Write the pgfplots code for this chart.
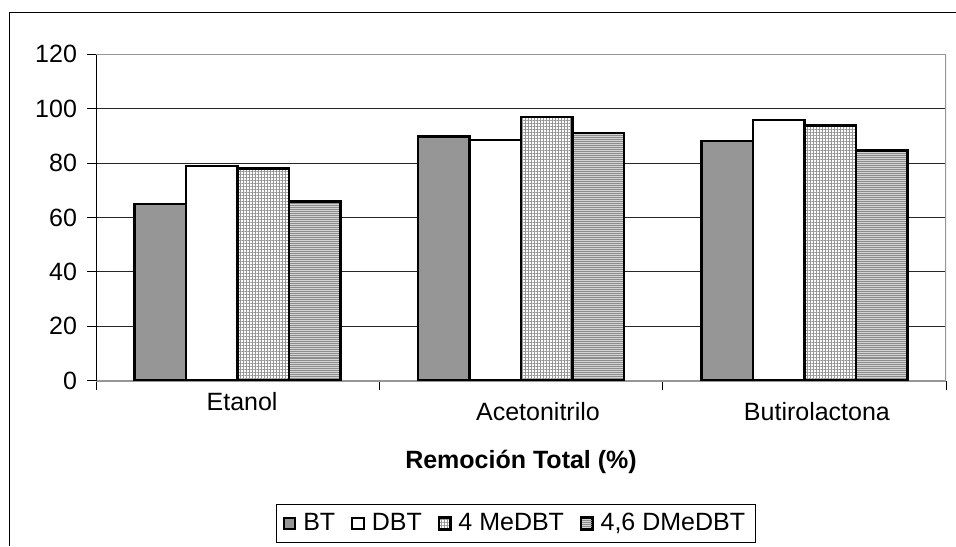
\documentclass[border=0pt]{standalone}
\usepackage{pgfplots}
\pgfplotsset{compat=1.18}
\usepackage{fontspec}
\setmainfont{Liberation Sans}
\usetikzlibrary{patterns.meta}

\definecolor{btgray}{RGB}{150,150,150}
\definecolor{gridpat}{RGB}{150,150,150}
\definecolor{stripebg}{RGB}{212,212,212}
\definecolor{stripefg}{RGB}{140,140,140}
\definecolor{framegray}{RGB}{150,150,150}

\newcommand{\chartfont}{\fontsize{12.5}{15}\selectfont}

\begin{document}
\begin{tikzpicture}[font=\chartfont]
\useasboundingbox (0,0) rectangle (478pt,273pt);
% outer chart frame
\draw[line width=0.6pt] (4.65pt,0) -- (4.65pt,266.65pt) -- (478pt,266.65pt);
\begin{axis}[
  at={(48pt,82.65pt)}, anchor=south west,
  scale only axis, width=425pt, height=163.2pt,
  xmin=-0.5, xmax=2.5, ymin=0, ymax=120,
  ytick={0,20,...,120},
  xtick={-0.5,0.5,1.5,2.5},
  xticklabels={},
  extra x ticks={0,1,2},
  extra x tick labels={{\raisebox{5pt}{\hspace*{4.4pt}Etanol}},{\hspace*{17pt}Acetonitrilo},{\hspace*{12.6pt}Butirolactona}},
  extra x tick style={major tick length=0pt, xticklabel style={anchor=base, yshift=-20pt}},
  axis lines=left,
  axis line style={-},
  x axis line style={framegray, line width=0.8pt},
  y axis line style={black, line width=0.5pt},
  tick align=outside,
  major tick length=4.5pt,
  tick style={black, line width=0.5pt},
  ymajorgrids,
  major grid style={black!85, line width=0.5pt},
  /pgf/number format/assume math mode=true,
  ticklabel style={font=\chartfont},
  yticklabel style={anchor=east, xshift=-1.5pt},
  xlabel={\textbf{Remoción Total (\%)}},
  xlabel style={at={(axis description cs:0.5,0)}, anchor=center, yshift=-40.6pt, font=\chartfont},
  ybar=0pt, bar width=25.75pt,
  every axis plot/.append style={draw=black, line width=1.3pt},
  legend columns=4,
  legend style={at={(0.494,-0.4375)}, anchor=center, draw=black, line width=0.5pt,
    inner xsep=3pt, inner ysep=2.5pt,
    /tikz/every even column/.append style={column sep=6pt},
    /tikz/every odd column/.append style={column sep=1.5pt},
    font=\chartfont},
  legend image code/.code={\draw[#1, line width=1pt] (0pt,-2.9pt) rectangle (5.8pt,2.9pt);},
]
\addplot[fill=btgray] coordinates {(0,65) (1,89.7) (2,88.1)};
\addplot[fill=white] coordinates {(0,78.9) (1,88.5) (2,95.8)};
\addplot[preaction={fill=white}, pattern={Hatch[angle=0, distance=1.5pt, line width=0.45pt]}, pattern color=gridpat]
  coordinates {(0,78.1) (1,97) (2,93.8)};
\addplot[preaction={fill=stripebg}, pattern={Lines[angle=0, distance=1pt, line width=0.5pt]}, pattern color=stripefg]
  coordinates {(0,65.8) (1,91) (2,84.6)};
\legend{BT,DBT,4 MeDBT,{4,6 DMeDBT}}
% plot-area border on the top and right
\draw[framegray, line width=0.8pt] (rel axis cs:0,1) -- (rel axis cs:1,1) -- (rel axis cs:1,0);
\end{axis}
\end{tikzpicture}
\end{document}
